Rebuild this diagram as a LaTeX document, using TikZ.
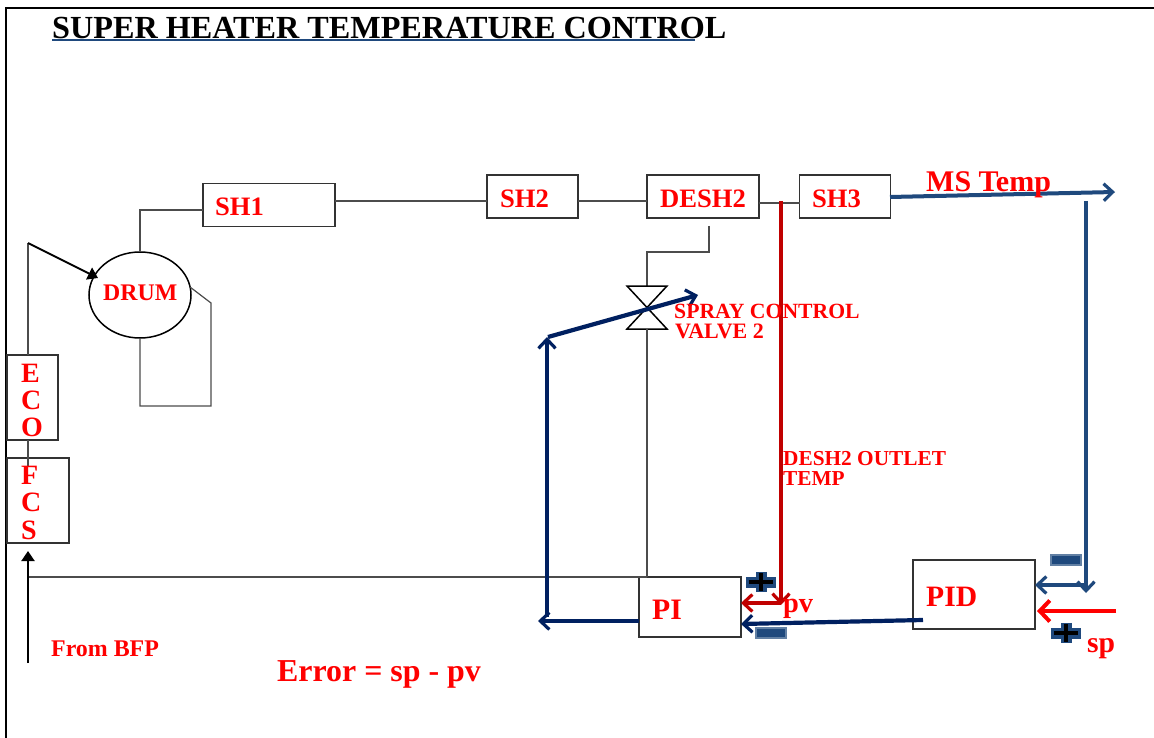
\documentclass[tikz,border=0pt]{standalone}
\usepackage{fontspec}
\setmainfont{Liberation Serif}
\usetikzlibrary{arrows.meta}
\definecolor{navy}{HTML}{002060}
\definecolor{steel}{HTML}{1F497D}
\definecolor{dred}{HTML}{C00000}
\tikzset{
  box/.style={draw=black!80,line width=1.2pt,inner sep=0pt,fill=white},
  thin line/.style={draw=black!70,line width=1.2pt},
  lbl/.style={text=red,font=\bfseries\fontsize{#1}{#1}\selectfont,inner sep=0pt,anchor=base west},
  barb/.style={-{Straight Barb[length=9pt,width=17pt,line width=3.2pt]}},
  navyline/.style={draw=navy,line width=4.2pt,barb},
  steelline/.style={draw=steel,line width=4pt,barb},
  dredline/.style={draw=dred,line width=3.4pt,barb},
  blackarrow/.style={draw=black,line width=2pt,-{Triangle[length=10pt,width=13pt]}},
  minusbar/.style={draw=steel!70,fill=steel,line width=2pt,inner sep=0pt,minimum width=30pt,minimum height=10pt},
  plusmark/.style={inner sep=0pt,minimum size=20pt},
}
\begin{document}
\begin{tikzpicture}[x=1pt,y=-1pt]
\useasboundingbox (0,0) rectangle (1154,738);
\fill[white] (0,0) rectangle (1154,738);
% frame
\coordinate (fTL) at (6,8);
\coordinate (fTR) at (1154,8);
\coordinate (fBL) at (6,738);
\draw[black,line width=2.4pt] (fBL) -- (fTL) -- (fTR);
% title
\node[inner sep=0pt,anchor=base west,font=\bfseries\fontsize{32.2}{33}\selectfont] (title) at (52,39) {SUPER HEATER TEMPERATURE CONTROL};
\coordinate (ulA) at (52,40);
\coordinate (ulB) at (695,40);
\draw[steel,line width=1.8pt] (ulA) -- (ulB);
% boxes
\node[box,minimum width=132pt,minimum height=43pt] (sh1) at (269,205) {};
\node[box,minimum width=91pt,minimum height=43pt] (sh2) at (532.5,196.5) {};
\node[box,minimum width=112pt,minimum height=43pt] (desh2) at (703,196.5) {};
\node[box,minimum width=91pt,minimum height=43pt] (sh3) at (845,196.5) {};
\node[box,minimum width=51pt,minimum height=85pt] (eco) at (32.5,397.5) {};
\node[box,minimum width=62pt,minimum height=85pt] (fcs) at (38,500.5) {};
\node[box,minimum width=102pt,minimum height=60pt] (pi) at (690,607) {};
\node[box,minimum width=122pt,minimum height=69pt] (pid) at (974,594.5) {};
\draw[black,line width=1.5pt,fill=white] (140,295) ellipse [x radius=51,y radius=43];
\coordinate (drumT) at (140,252);
\coordinate (drumB) at (140,338);
\coordinate (drumR) at (190,287);
% thin piping
\coordinate (a1) at (140,210);
\coordinate (sh1L) at (203,210);
\draw[thin line] (sh1L) -- (a1) -- (drumT);
\coordinate (r1) at (211,303);
\coordinate (r2) at (211,406);
\coordinate (r3) at (140,406);
\draw[thin line] (drumR) -- (r1) -- (r2) -- (r3) -- (drumB);
\coordinate (sh1R) at (335,201);
\coordinate (sh2L) at (487,201);
\coordinate (sh2R) at (578,201);
\coordinate (deL) at (647,201);
\coordinate (deR) at (759,203);
\coordinate (sh3L) at (800,203);
\draw[thin line] (sh1R) -- (sh2L);
\draw[thin line] (sh2R) -- (deL);
\draw[thin line] (deR) -- (sh3L);
% spray line and valve
\coordinate (s1) at (709,226);
\coordinate (s2) at (709,252);
\coordinate (s3) at (647,252);
\coordinate (vT) at (647,286);
\coordinate (vTL) at (627,286);
\coordinate (vTR) at (667,286);
\coordinate (vBL) at (627,329);
\coordinate (vBR) at (667,329);
\coordinate (vB) at (647,329);
\coordinate (piT) at (647,577);
\coordinate (f0) at (28,577);
\draw[thin line] (s1) -- (s2) -- (s3) -- (vT);
\draw[black,line width=1.5pt,fill=white] (vTL) -- (vTR) -- (vBL) -- (vBR) -- cycle;
\draw[thin line] (vB) -- (piT);
\draw[thin line] (f0) -- (piT);
% feed line
\coordinate (bfp) at (28,663);
\coordinate (bfpT) at (28,551);
\draw[blackarrow] (bfp) -- (bfpT);
\coordinate (l1) at (28,243);
\coordinate (l2) at (28,355);
\coordinate (l3) at (28,440);
\coordinate (l4) at (28,466);
\coordinate (drumIn) at (98,278);
\draw[thin line] (l1) -- (l2);
\draw[thin line] (l3) -- (l4);
\draw[blackarrow] (l1) -- (drumIn);
% navy control lines
\coordinate (n1) at (639,621);
\coordinate (n2) at (538,621);
\coordinate (n3) at (547,617);
\coordinate (n4) at (547,337);
\coordinate (n5) at (548,337);
\coordinate (n6) at (698,295);
\draw[navyline] (n1) -- (n2);
\draw[navyline] (n3) -- (n4);
\draw[navyline] (n5) -- (n6);
\coordinate (n7) at (923,620);
\coordinate (n8) at (741,624);
\draw[navyline] (n7) -- (n8);
% steel lines
\coordinate (m1) at (890,197);
\coordinate (m2) at (1115,192);
\coordinate (m3) at (1086,201);
\coordinate (m4) at (1086,593);
\coordinate (m5) at (1086,585);
\coordinate (m6) at (1035,585);
\draw[steelline] (m1) -- (m2);
\draw[steelline] (m3) -- (m4);
\draw[steelline] (m5) -- (m6);
% red lines
\coordinate (d1) at (781,201);
\coordinate (d2) at (781,605);
\coordinate (d3) at (781,603);
\coordinate (d4) at (741,603);
\draw[dredline] (d1) -- (d2);
\draw[dredline] (d3) -- (d4);
\coordinate (sp1) at (1116,611);
\coordinate (sp2) at (1037,611);
\draw[red,line width=4.6pt,-{Straight Barb[length=10pt,width=21pt,line width=4pt]}] (sp1) -- (sp2);
% signs
\node[minusbar] (minusA) at (1066,560) {};
\node[minusbar] (minusB) at (771,632.5) {};
\foreach \nm/\cx/\cy in {plusA/761/582,plusB/1066/633}{
  \node[plusmark] (\nm) at (\cx,\cy) {};
  \draw[steel,line width=11pt] ([xshift=-5pt]\nm.west) -- ([xshift=5pt]\nm.east);
  \draw[steel,line width=11pt] (\nm.north) -- (\nm.south);
  \draw[black,line width=4pt] ([xshift=-2pt]\nm.west) -- ([xshift=2pt]\nm.east);
  \draw[black,line width=4pt] ([yshift=-1.5pt]\nm.north) -- ([yshift=1.5pt]\nm.south);
}
% labels
\node[lbl=26.6] (tSH1) at (215,216) {SH1};
\node[lbl=26.6] (tSH2) at (500,208) {SH2};
\node[lbl=26.6] (tDE) at (660,208) {DESH2};
\node[lbl=26.6] (tSH3) at (812,208) {SH3};
\node[lbl=23.8] (tDR) at (103,300) {DRUM};
\node[lbl=30] (tMS) at (926,192) {MS Temp};
\node[lbl=28] (tE) at (21,382) {E};
\node[lbl=28] (tC) at (21,409) {C};
\node[lbl=28] (tO) at (21,436) {O};
\node[lbl=28] (tF) at (21,484) {F};
\node[lbl=28] (tC2) at (21,511) {C};
\node[lbl=28] (tS) at (21,539) {S};
\node[lbl=21.7] (tSP) at (674,318) {SPRAY CONTROL};
\node[lbl=22] (tV) at (675,338) {VALVE 2};
\node[lbl=21.3] (tDO) at (783,465) {DESH2 OUTLET};
\node[lbl=21.3] (tTM) at (783,485) {TEMP};
\node[lbl=29.7] (tPI) at (652,619) {PI};
\node[lbl=29.6] (tPID) at (926,606) {PID};
\node[lbl=28.4] (tpv) at (783,612) {pv};
\node[lbl=29.6] (tsp) at (1087,652) {sp};
\node[lbl=23.9] (tBFP) at (51,656) {From BFP};
\node[lbl=31.9] (tErr) at (277,681) {Error = sp - pv};
\end{tikzpicture}
\end{document}
